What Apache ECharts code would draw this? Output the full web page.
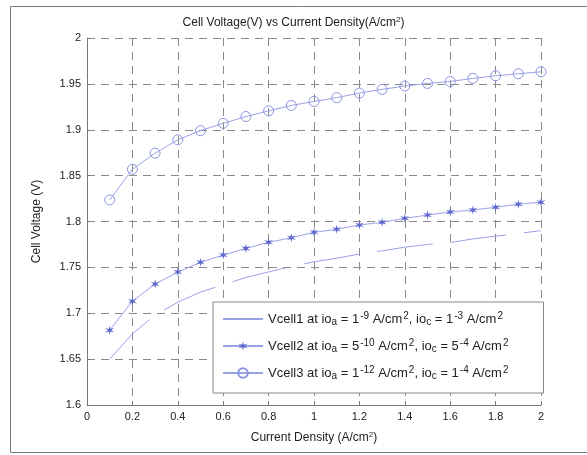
<!DOCTYPE html>
<html>
<head>
<meta charset="utf-8">
<script src="https://cdn.jsdelivr.net/npm/echarts@6/dist/echarts.min.js"></script>
<style>html,body{margin:0;padding:0;background:#fff;}#c{width:587px;height:455px;}</style>
</head>
<body>
<div id="c"></div>
<script>
var currentDensity = [0.1,0.2,0.3,0.4,0.5,0.6,0.7,0.8,0.9,1.0,1.1,1.2,1.3,1.4,1.5,1.6,1.7,1.8,1.9,2.0];
var vcell1 = [1.650,1.6775,1.698,1.712,1.723,1.731,1.739,1.745,1.751,1.756,1.760,1.7645,1.768,1.772,1.775,1.777,1.781,1.784,1.787,1.790];
var vcell2 = [1.6815,1.7132,1.7318,1.7449,1.7555,1.7634,1.7707,1.7773,1.7823,1.7882,1.7915,1.7962,1.7991,1.8035,1.807,1.8104,1.8126,1.8155,1.8188,1.821];
var vcell3 = [1.8235,1.857,1.8745,1.889,1.899,1.907,1.9144,1.9206,1.9265,1.9308,1.935,1.940,1.944,1.9476,1.9505,1.9526,1.956,1.9588,1.961,1.9632];
var seriesNames = ['Vcell1','Vcell2','Vcell3'];
var legendLabels = {
  'Vcell1': '{n|Vcell1 at io}{sub|a}{n| = 1}{sup|-9}{n| A/cm}{sup|2}{n|, io}{sub|c}{n| = 1}{sup|-3}{n| A/cm}{sup|2}',
  'Vcell2': '{n|Vcell2 at io}{sub|a}{n| = 5}{sup|-10}{n| A/cm}{sup|2}{n|, io}{sub|c}{n| = 5}{sup|-4}{n| A/cm}{sup|2}',
  'Vcell3': '{n|Vcell3 at io}{sub|a}{n| = 1}{sup|-12}{n| A/cm}{sup|2}{n|, io}{sub|c}{n| = 1}{sup|-4}{n| A/cm}{sup|2}'
};

function pairs(xs, ys){ return xs.map(function(x,i){ return [x, ys[i]]; }); }

var lineColor = '#9aa2e6';
var markColor = '#5c66cc';
var font = 'Liberation Sans, Arial, Helvetica, sans-serif';
var starPath = 'path://M0,-10 L1.6,-2.8 L8.7,-5 L3.2,0 L8.7,5 L1.6,2.8 L0,10 L-1.6,2.8 L-8.7,5 L-3.2,0 L-8.7,-5 L-1.6,-2.8 Z';

var chart = echarts.init(document.getElementById('c'), null, {renderer:'canvas'});
chart.setOption({
  backgroundColor: '#fff',
  animation: false,
  graphic: [{
    type: 'rect', left: 8, top: 4, silent: true,
    shape: { width: 600, height: 446 },
    style: { fill: 'none', stroke: '#777', lineWidth: 1 }
  }],
  title: {
    text: 'Cell Voltage(V) vs Current Density(A/cm{sup|2})',
    left: 'center', top: 11,
    textStyle: { fontFamily: font, fontSize: 12, fontWeight: 'normal', color: '#222',
      rich: { sup: { fontSize: 8, verticalAlign: 'top', color:'#222', fontFamily: font, padding:[0,0,6,0] } } }
  },
  grid: { left: 87, right: 46, top: 38, bottom: 50, containLabel: false },
  xAxis: {
    type: 'value', min: 0, max: 2, interval: 0.2,
    name: 'Current Density (A/cm{sup|2})', nameLocation: 'middle', nameGap: 26,
    nameTextStyle: { fontFamily: font, fontSize: 12, color: '#222',
      rich: { sup: { fontSize: 8, verticalAlign: 'top', padding:[0,0,6,0], fontFamily: font, color:'#222' } } },
    axisLine: { show: true, lineStyle: { color: '#777', width: 1 } },
    axisTick: { show: true, inside: true, length: 4, lineStyle: { color: '#777' } },
    axisLabel: { fontFamily: font, fontSize: 11, color: '#222', margin: 6,
      formatter: function(v){ return String(Math.round(v*10)/10); } },
    splitLine: { show: true, lineStyle: { color: '#8a8a8a', type: [8,6], width: 1 } }
  },
  yAxis: {
    type: 'value', min: 1.6, max: 2, interval: 0.05,
    name: 'Cell Voltage (V)', nameLocation: 'middle', nameGap: 44, nameRotate: 90,
    nameTextStyle: { fontFamily: font, fontSize: 12, color: '#222' },
    axisLine: { show: true, lineStyle: { color: '#777', width: 1 } },
    axisTick: { show: true, inside: true, length: 4, lineStyle: { color: '#777' } },
    axisLabel: { fontFamily: font, fontSize: 11, color: '#222', margin: 6,
      formatter: function(v){ return String(Math.round(v*100)/100); } },
    splitLine: { show: true, lineStyle: { color: '#8a8a8a', type: [8,6], width: 1 } }
  },
  legend: {
    orient: 'vertical', left: 213, top: 302,
    padding: [9, 35, 12, 9],
    itemGap: 11,
    itemWidth: 40, itemHeight: 12,
    backgroundColor: '#fff',
    borderColor: '#888', borderWidth: 1,
    data: [
      { name: 'Vcell1', itemStyle: { opacity: 0 }, lineStyle: { type: 'solid' } },
      { name: 'Vcell2' },
      { name: 'Vcell3' }
    ],
    formatter: function(name){ return legendLabels[name]; },
    textStyle: {
      fontFamily: font, fontSize: 13, color: '#222',
      rich: {
        n: { fontFamily: font, fontSize: 13, color: '#222', lineHeight: 16 },
        sub: { fontFamily: font, fontSize: 10, color: '#222', verticalAlign: 'bottom', padding: [6,0,0,0] },
        sup: { fontFamily: font, fontSize: 10, color: '#222', verticalAlign: 'top', padding: [0,0,6,1] }
      }
    }
  },
  series: [
    { name: 'Vcell1', type: 'line', data: pairs(currentDensity, vcell1),
      showSymbol: false, symbol: 'circle', symbolSize: 0,
      lineStyle: { color: lineColor, width: 1, type: [56,18] },
      itemStyle: { color: lineColor } },
    { name: 'Vcell2', type: 'line', data: pairs(currentDensity, vcell2),
      symbol: starPath, symbolSize: 9,
      lineStyle: { color: lineColor, width: 1 },
      itemStyle: { color: markColor } },
    { name: 'Vcell3', type: 'line', data: pairs(currentDensity, vcell3),
      symbol: 'circle', symbolSize: 10,
      lineStyle: { color: lineColor, width: 1 },
      itemStyle: { color: 'rgba(255,255,255,0)', borderColor: '#8c94e0', borderWidth: 1 } }
  ]
});
</script>
</body>
</html>
